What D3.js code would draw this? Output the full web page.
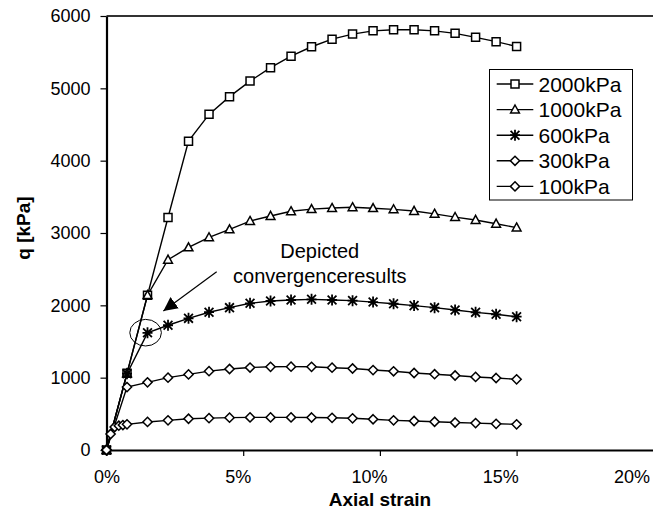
<!DOCTYPE html>
<html>
<head>
<meta charset="utf-8">
<script src="https://cdn.jsdelivr.net/npm/d3@7"></script>
<style>
  html, body { margin: 0; padding: 0; background: #fff; }
  svg { display: block; font-family: "Liberation Sans", Arial, sans-serif; }
</style>
</head>
<body>
<svg id="chart" width="653" height="510"></svg>
<script>
// ---- data (strain in %, q in kPa) ----
const strain = [0, 0.75, 1.5, 2.25, 3, 3.75, 4.5, 5.25, 6, 6.75, 7.5, 8.25, 9, 9.75, 10.5, 11.25, 12, 12.75, 13.5, 14.25, 15];
const strain100 = [0, 0.15, 0.3, 0.45, 0.6, 0.75, 1.5, 2.25, 3, 3.75, 4.5, 5.25, 6, 6.75, 7.5, 8.25, 9, 9.75, 10.5, 11.25, 12, 12.75, 13.5, 14.25, 15];
const q2000 = [0, 1060, 2140, 3215, 4270, 4640, 4885, 5100, 5285, 5445, 5575, 5680, 5750, 5795, 5810, 5810, 5795, 5760, 5705, 5645, 5580];
const q1000 = [0, 1060, 2140, 2630, 2800, 2940, 3050, 3165, 3235, 3300, 3330, 3345, 3355, 3343, 3327, 3304, 3265, 3220, 3180, 3128, 3075];
const q600  = [0, 1055, 1620, 1725, 1820, 1905, 1968, 2028, 2060, 2074, 2083, 2074, 2065, 2045, 2022, 1996, 1968, 1936, 1903, 1876, 1843];
const q300  = [0, 870, 935, 1000, 1045, 1090, 1120, 1140, 1150, 1152, 1150, 1138, 1127, 1105, 1088, 1065, 1048, 1030, 1010, 995, 977];
const q100  = [0, 221, 318, 336, 345, 355, 388, 410, 432, 440, 447, 451, 451, 451, 449, 445, 438, 425, 410, 401, 391, 380, 372, 362, 355];
const seriesNames = ["2000kPa", "1000kPa", "600kPa", "300kPa", "100kPa"];
const seriesMarkers = ["square", "triangle", "star", "diamond", "diamond"];
const xTicks = [0, 5, 10, 15, 20];
const yTicks = [0, 1000, 2000, 3000, 4000, 5000, 6000];
const xTitle = "Axial strain";
const yTitle = "q [kPa]";
const noteLines = ["Depicted", "convergenceresults"];
const noteText = {x: 7.8, q: [2650, 2305]};
const noteArrow = {from: [4.03, 2465], to: [2.08, 1922]};
const noteCircle = {x: 1.43, q: 1622};

// ---- layout ----
const svg = d3.select("#chart");
const x = d3.scaleLinear().domain([0, 20]).range([106.5, 653.3]);
const xLab = d3.scaleLinear().domain([0, 20]).range([107, 632]);
const y = d3.scaleLinear().domain([0, 6000]).range([450, 16]);

const data = [
  {name: seriesNames[0], marker: seriesMarkers[0], xs: strain, qs: q2000},
  {name: seriesNames[1], marker: seriesMarkers[1], xs: strain, qs: q1000},
  {name: seriesNames[2], marker: seriesMarkers[2], xs: strain, qs: q600},
  {name: seriesNames[3], marker: seriesMarkers[3], xs: strain, qs: q300},
  {name: seriesNames[4], marker: seriesMarkers[4], xs: strain100, qs: q100}
];

function markerPath(type) {
  switch (type) {
    case "square": return "M-4,-4H4V4H-4Z";
    case "triangle": return "M0,-4.6L4.4,3.4H-4.4Z";
    case "diamond": return "M0,-4.6L4.6,0L0,4.6L-4.6,0Z";
    case "star": return "M0,-5.5V5.5M-4.4,-4.4L4.4,4.4M-4.4,4.4L4.4,-4.4M-5,0H5";
  }
}
function drawMarker(g, type) {
  const p = g.append("path").attr("d", markerPath(type))
    .attr("stroke", "#000").attr("stroke-width", type === "star" ? 1.8 : 1.5);
  p.attr("fill", type === "star" ? "none" : "#fff");
}

// top frame line
svg.append("line").attr("x1", x(0)).attr("x2", 653).attr("y1", y(6000)).attr("y2", y(6000))
  .attr("stroke", "#333").attr("stroke-width", 1.8);

// axes
const gy = svg.append("g").attr("transform", `translate(${x(0)},0)`)
  .call(d3.axisLeft(y).tickValues(yTicks).tickSize(6).tickSizeOuter(0).tickPadding(10).tickFormat(d3.format("d")));
gy.select(".domain").attr("stroke", "#000").attr("stroke-width", 2.2);
gy.selectAll(".tick line").attr("stroke", "#000").attr("stroke-width", 1.2);
gy.selectAll(".tick text").attr("font-size", 18).attr("fill", "#000").attr("font-family", "Liberation Sans, Arial, sans-serif");

const gx = svg.append("g").attr("transform", `translate(0,${y(0)})`)
  .call(d3.axisBottom(x).tickValues(xTicks).tickSize(6).tickSizeOuter(0).tickFormat(""));
gx.select(".domain").attr("stroke", "#000").attr("stroke-width", 2.2);
gx.selectAll(".tick line").attr("stroke", "#000").attr("stroke-width", 1.2);
svg.append("g").selectAll("text").data(xTicks).join("text")
  .attr("x", d => xLab(d)).attr("y", 483).attr("text-anchor", "middle")
  .attr("font-size", 18).attr("fill", "#000").text(d => d + "%");

// axis titles
svg.append("text").attr("x", 380).attr("y", 506).attr("text-anchor", "middle")
  .attr("font-size", 19).attr("font-weight", "bold").text(xTitle);
svg.append("text").attr("transform", "translate(30,228) rotate(-90)").attr("text-anchor", "middle")
  .attr("font-size", 19).attr("font-weight", "bold").text(yTitle);

// series lines
const line = d3.line().x(d => x(d[0])).y(d => y(d[1]));
const plot = svg.append("g");
data.forEach(s => {
  const pts = s.xs.map((v, i) => [v, s.qs[i]]);
  plot.append("path").datum(pts).attr("d", line)
    .attr("fill", "none").attr("stroke", "#000").attr("stroke-width", 1.4);
});
data.forEach(s => {
  s.xs.forEach((v, i) => {
    const g = plot.append("g").attr("transform", `translate(${x(v)},${y(s.qs[i])})`);
    drawMarker(g, s.marker);
  });
});

// annotation
svg.append("ellipse").attr("cx", x(noteCircle.x)).attr("cy", y(noteCircle.q))
  .attr("rx", 15.8).attr("ry", 13.3).attr("fill", "none").attr("stroke", "#000").attr("stroke-width", 1);
svg.append("defs").append("marker").attr("id", "ah").attr("viewBox", "0 0 10 10")
  .attr("refX", 10).attr("refY", 5).attr("markerWidth", 14).attr("markerHeight", 14)
  .attr("markerUnits", "userSpaceOnUse").attr("orient", "auto")
  .append("path").attr("d", "M0,0L10,5L0,10Z").attr("fill", "#000");
svg.append("line")
  .attr("x1", x(noteArrow.from[0])).attr("y1", y(noteArrow.from[1]))
  .attr("x2", x(noteArrow.to[0])).attr("y2", y(noteArrow.to[1]))
  .attr("stroke", "#000").attr("stroke-width", 1.2).attr("marker-end", "url(#ah)");
noteLines.forEach((t, i) => {
  svg.append("text").attr("x", x(noteText.x)).attr("y", y(noteText.q[i]))
    .attr("text-anchor", "middle").attr("font-size", 20).attr("fill", "#000").text(t);
});

// legend
const lg = svg.append("g");
lg.append("rect").attr("x", 489.5).attr("y", 69.5).attr("width", 143).attr("height", 130.5)
  .attr("fill", "#fff").attr("stroke", "#000").attr("stroke-width", 1);
data.forEach((s, i) => {
  const cy = 84 + i * 25.6;
  lg.append("line").attr("x1", 496.7).attr("x2", 533.3).attr("y1", cy).attr("y2", cy)
    .attr("stroke", "#000").attr("stroke-width", 1.4);
  const g = lg.append("g").attr("transform", `translate(515,${cy})`);
  drawMarker(g, s.marker);
  lg.append("text").attr("x", 538.5).attr("y", cy + 7.5).attr("font-size", 21).attr("fill", "#000").text(s.name);
});
</script>
</body>
</html>
